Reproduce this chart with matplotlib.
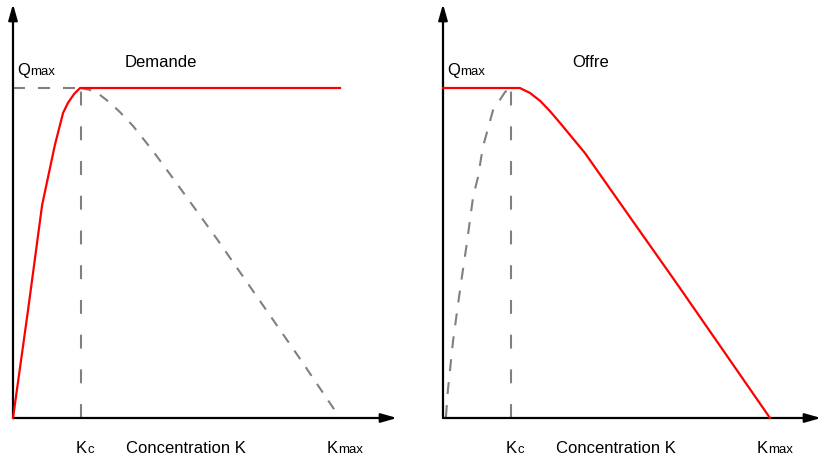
import matplotlib
matplotlib.use('Agg')
import matplotlib.pyplot as plt

plt.rcParams['font.family'] = ['Liberation Sans', 'DejaVu Sans']
plt.rcParams['lines.scale_dashes'] = False

# ---- data (K normalised so Kmax = 1, Q normalised so Qmax = 1) ----
Q_MAX = 1.0
K_C = 0.208
K_MAX = 1.0

panel_titles = ['Demande', 'Offre']
x_label = 'Concentration K'

# Demande panel
dem_red_k = [0.0, 0.046, 0.089, 0.104, 0.128, 0.153, 0.168, 0.187, 0.205, 1.0]
dem_red_q = [0.0, 0.327, 0.645, 0.715, 0.827, 0.924, 0.955, 0.982, 1.0, 1.0]
dem_gray_k = [0.208, 0.235, 0.266, 0.297, 0.327, 0.367, 0.428, 0.480, 0.624, 0.755, 0.878, 1.0]
dem_gray_q = [1.0, 0.994, 0.979, 0.955, 0.927, 0.885, 0.809, 0.739, 0.542, 0.355, 0.179, 0.0]

# Offre panel
off_red_k = [0.0, 0.235, 0.266, 0.297, 0.327, 0.358, 0.434, 0.563, 0.716, 0.856, 1.0]
off_red_q = [1.0, 1.0, 0.985, 0.961, 0.930, 0.894, 0.803, 0.621, 0.406, 0.206, 0.0]
off_gray_k = [0.009, 0.015, 0.031, 0.052, 0.073, 0.092, 0.107, 0.122, 0.153, 0.190, 0.208]
off_gray_q = [0.003, 0.085, 0.236, 0.388, 0.530, 0.670, 0.730, 0.821, 0.933, 0.988, 1.0]

RED = '#ff0000'
GRAY = '#808080'
W, H = 821, 463

fig = plt.figure(figsize=(W / 100, H / 100), dpi=100)


def make_axes(x0, x1):
    ax = fig.add_axes([x0 / W, (H - 418) / H, (x1 - x0) / W, (418 - 4) / H])
    ax.set_xlim(0, (x1 - x0) / 327)
    ax.set_ylim(0, 414 / 330)
    ax.axis('off')
    arrow = dict(arrowstyle='-|>,head_length=0.95,head_width=0.27', lw=1.6,
                 color='black', shrinkA=0, shrinkB=0)
    ax.annotate('', xy=(1, 0), xytext=(0, 0), xycoords='axes fraction',
                textcoords='axes fraction', arrowprops=arrow)
    ax.annotate('', xy=(0, 1), xytext=(0, 0), xycoords='axes fraction',
                textcoords='axes fraction', arrowprops=arrow)
    return ax


def sub_label(ax, x, y, main, sub):
    t = ax.text(x, y, main, fontsize=12, ha='left', va='baseline', clip_on=False)
    ax.annotate(sub, xy=(1, 0), xycoords=t, fontsize=9.5, ha='left',
                va='bottom', annotation_clip=False)


def decorate(ax, title, title_x):
    sub_label(ax, 0.012, 1.039, 'Q', 'max')
    ax.text(title_x, 1.064, title, fontsize=12, ha='left', va='baseline')
    sub_label(ax, 0.193, -0.106, 'K', 'c')
    sub_label(ax, 0.960, -0.106, 'K', 'max')
    ax.text(0.345, -0.106, x_label, fontsize=12, ha='left', va='baseline',
            clip_on=False)
    ax.plot([K_C, K_C], [0, Q_MAX], color=GRAY, lw=1.5,
            dashes=(10, 15), clip_on=False, zorder=2)


axL = make_axes(13, 397)
axL.plot([0, K_C], [Q_MAX, Q_MAX], color=GRAY, lw=1.5, dashes=(8.6, 9.4),
         clip_on=False, zorder=2)
axL.plot(dem_gray_k, dem_gray_q, color=GRAY, lw=1.5, dashes=(7.5, 7),
         clip_on=False, zorder=2, dash_capstyle='butt')
axL.plot(dem_red_k, dem_red_q, color=RED, lw=1.6, clip_on=False, zorder=3,
         solid_joinstyle='round')
decorate(axL, panel_titles[0], 0.3425)

axR = make_axes(443, 821)
axR.plot(off_gray_k, off_gray_q, color=GRAY, lw=1.5, dashes=(8.6, 8),
         clip_on=False, zorder=2)
axR.plot(off_red_k, off_red_q, color=RED, lw=1.6, clip_on=False, zorder=3,
         solid_joinstyle='round')
decorate(axR, panel_titles[1], 0.394)

fig.savefig('out.png', dpi=100)
